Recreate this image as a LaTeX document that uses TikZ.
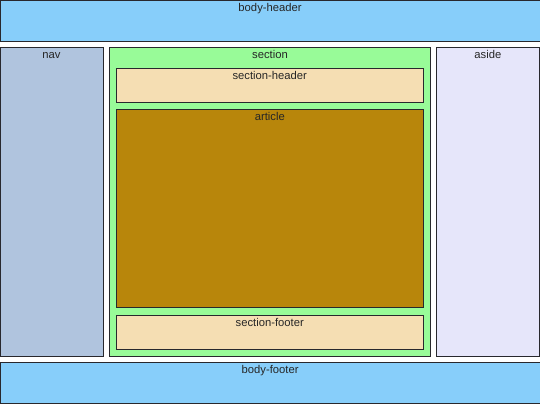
\documentclass[tikz,border=0pt]{standalone}
\usepackage{fontspec}
\setmainfont{Liberation Sans}
\usetikzlibrary{positioning}
\definecolor{skyb} {RGB}{135,206,250}
\definecolor{steel}{RGB}{176,196,222}
\definecolor{pgrn} {RGB}{152,251,152}
\definecolor{wheat}{RGB}{245,222,179}
\definecolor{dgold}{RGB}{184,134, 11}
\definecolor{lavd} {RGB}{230,230,250}
\definecolor{edge} {RGB}{ 40, 40, 45}
\tikzset{
  % Layout box, label at the top
  LB/.style={rectangle,draw=edge,fill=#1,anchor=north west,
             inner sep=0pt,outer sep=0pt,line width=0.7pt},
  % Top label style
  TL/.style={anchor=north,font=\fontsize{8}{9}\selectfont,inner sep=1.7pt,
             text height=6pt,text depth=1.7pt,text=black!85},
}
\begin{document}
\begin{tikzpicture}[x=0.025cm,y=-0.025cm]
      \useasboundingbox (0,0) rectangle (540,405);
      % Page header and footer — full width
      \node[LB=skyb,minimum width=13.5cm,minimum height=1.0375cm,
            label={[TL]north:body-header}]
            at (0,0) (bhead) {};
      \node[LB=skyb,minimum width=13.5cm,minimum height=1.04cm,
            label={[TL]north:body-footer}]
            at (0,362.3) (bfoot) {};
      % Three columns
      \node[LB=steel,minimum width=2.575cm,minimum height=7.7125cm,
            label={[TL]north:nav}]
            at (0,47.5) (nav) {};
      \node[LB=pgrn,minimum width=8.035cm,minimum height=7.7125cm,
            label={[TL]north:section}]
            at (109.3,47.5) (sect) {};
      \node[LB=lavd,minimum width=2.5575cm,minimum height=7.7125cm,
            label={[TL]north:aside}]
            at (436.7,47.5) (aside) {};
      % Inside the section
      \node[LB=wheat,minimum width=7.6875cm,minimum height=0.85cm,
            label={[TL]north:section-header}]
            at (116,68) (shead) {};
      \node[LB=dgold,minimum width=7.6875cm,minimum height=4.9625cm,
            label={[TL]north:article}]
            at (116,109) (art) {};
      \node[LB=wheat,minimum width=7.6875cm,minimum height=0.85cm,
            label={[TL]north:section-footer}]
            at (116,315) (sfoot) {};
    \end{tikzpicture}
\end{document}
